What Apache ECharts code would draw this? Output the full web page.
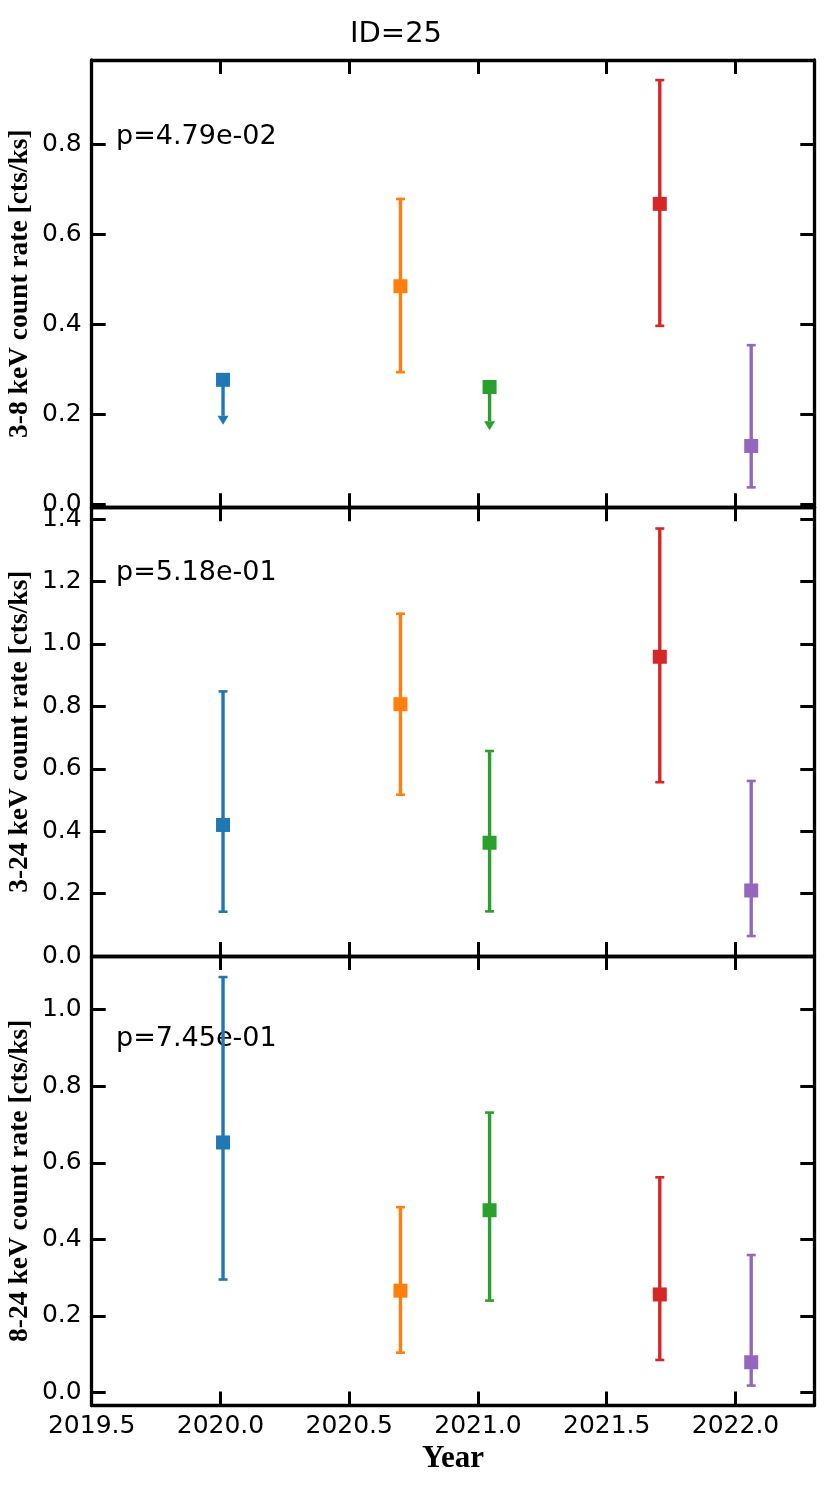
<!DOCTYPE html>
<html>
<head>
<meta charset="utf-8">
<script src="https://cdn.jsdelivr.net/npm/echarts@6.0.0/dist/echarts.min.js"></script>
<style>
  html, body { margin: 0; padding: 0; background: #fff; }
  #box { width: 830px; height: 1495px; }
</style>
</head>
<body>
<div id="box"></div>
<script>
// observation dates and marker colours
const years = [2020.010, 2020.699, 2021.045, 2021.706, 2022.061];
const pointColors = ['#1f77b4', '#ff7f0e', '#2ca02c', '#d62728', '#9467bd'];
const xTicks = [2019.5, 2020.0, 2020.5, 2021.0, 2021.5, 2022.0];

// 3-8 keV
const rateSoft = [0.276, 0.484, 0.260, 0.667, 0.129];
const lowSoft = [0.176, 0.293, 0.164, 0.396, 0.037];
const highSoft = [0.276, 0.678, 0.260, 0.942, 0.353];
const upperLimitSoft = [true, false, true, false, false];

// 3-24 keV
const rateFull = [0.420, 0.807, 0.363, 0.959, 0.210];
const lowFull = [0.142, 0.517, 0.143, 0.557, 0.064];
const highFull = [0.848, 1.097, 0.657, 1.370, 0.561];
const upperLimitFull = [false, false, false, false, false];

// 8-24 keV
const rateHard = [0.653, 0.266, 0.476, 0.256, 0.079];
const lowHard = [0.295, 0.104, 0.240, 0.085, 0.018];
const highHard = [1.085, 0.484, 0.731, 0.562, 0.359];
const upperLimitHard = [false, false, false, false, false];

const yTicksSoft = [0.0, 0.2, 0.4, 0.6, 0.8];
const yTicksFull = [0.0, 0.2, 0.4, 0.6, 0.8, 1.0, 1.2, 1.4];
const yTicksHard = [0.0, 0.2, 0.4, 0.6, 0.8, 1.0];

const yNames = ['3-8 keV count rate [cts/ks]', '3-24 keV count rate [cts/ks]', '8-24 keV count rate [cts/ks]'];
const pTexts = ['p=4.79e-02', 'p=5.18e-01', 'p=7.45e-01'];

const panels = [
    { rate: rateSoft, low: lowSoft, high: highSoft, lim: upperLimitSoft, ticks: yTicksSoft,
      min: -0.0073, max: 0.9867, top: 60, height: 447.3, pY: 137 },
    { rate: rateFull, low: lowFull, high: highFull, lim: upperLimitFull, ticks: yTicksFull,
      min: 0, max: 1.438, top: 507.3, height: 448.7, pY: 573 },
    { rate: rateHard, low: lowHard, high: highHard, lim: upperLimitHard, ticks: yTicksHard,
      min: -0.034, max: 1.140, top: 956, height: 449.5, pY: 1039 }
];

const chart = echarts.init(document.getElementById('box'));
const black = '#000';
const tickFont = { fontFamily: 'DejaVu Sans', fontSize: 25, color: black };

function fmt(v) { return v.toFixed(1); }

function errorBars(panel) {
    return function (params, api) {
        const i = params.dataIndex;
        const color = pointColors[i];
        const x = api.value(0);
        const pLo = api.coord([x, api.value(1)]);
        const pHi = api.coord([x, api.value(2)]);
        const children = [];
        if (panel.lim[i]) {
            // upper limit: stem down to an arrow head
            const base = pLo[1] - 9;
            children.push({ type: 'line', shape: { x1: pHi[0], y1: pHi[1], x2: pHi[0], y2: base },
                style: { stroke: color, lineWidth: 3.4 } });
            children.push({ type: 'polygon',
                shape: { points: [[pLo[0] - 5.5, base], [pLo[0] + 5.5, base], [pLo[0], pLo[1]]] },
                style: { fill: color } });
        } else {
            children.push({ type: 'line', shape: { x1: pHi[0], y1: pHi[1], x2: pLo[0], y2: pLo[1] },
                style: { stroke: color, lineWidth: 3.4 } });
            [pHi, pLo].forEach(function (p) {
                children.push({ type: 'line', shape: { x1: p[0] - 4.5, y1: p[1], x2: p[0] + 4.5, y2: p[1] },
                    style: { stroke: color, lineWidth: 2.6 } });
            });
        }
        return { type: 'group', children: children };
    };
}

const grids = [], xAxes = [], yAxes = [], series = [], texts = [];

panels.forEach(function (p, k) {
    grids.push({ left: 91.7, right: 15.7, top: p.top, height: p.height, outerBoundsMode: 'none' });

    ['bottom', 'top'].forEach(function (pos) {
        xAxes.push({
            type: 'value', gridIndex: k, position: pos, min: 2019.5, max: 2022.306,
            axisLine: { show: true, onZero: false, lineStyle: { color: black, width: 3.3 } },
            axisTick: { show: true, inside: true, length: 14, customValues: xTicks,
                lineStyle: { color: black, width: 3 } },
            axisLabel: Object.assign({ show: pos === 'bottom' && k === 2, customValues: xTicks,
                formatter: fmt, margin: 8 }, tickFont),
            splitLine: { show: false },
            name: pos === 'bottom' && k === 2 ? 'Year' : '',
            nameLocation: 'middle', nameGap: 38, nameMoveOverlap: false,
            nameTextStyle: { fontFamily: 'Liberation Serif', fontWeight: 'bold', fontSize: 31, color: black }
        });
    });

    ['left', 'right'].forEach(function (pos) {
        yAxes.push({
            type: 'value', gridIndex: k, position: pos, min: p.min, max: p.max,
            axisLine: { show: true, onZero: false, lineStyle: { color: black, width: 3.3 } },
            axisTick: { show: true, inside: true, length: 14, customValues: p.ticks,
                lineStyle: { color: black, width: 3 } },
            axisLabel: Object.assign({ show: pos === 'left', customValues: p.ticks,
                formatter: fmt, margin: 10 }, tickFont),
            splitLine: { show: false },
            name: pos === 'left' ? yNames[k] : '',
            nameLocation: 'middle', nameRotate: 90, nameGap: 58, nameMoveOverlap: false,
            nameTextStyle: { fontFamily: 'Liberation Serif', fontWeight: 'bold', fontSize: 27.5, color: black }
        });
    });

    series.push({
        type: 'custom', xAxisIndex: k * 2, yAxisIndex: k * 2, z: 2,
        renderItem: errorBars(p),
        encode: { x: 0, y: [1, 2] },
        data: years.map(function (y, i) { return [y, p.low[i], p.high[i]]; })
    });
    series.push({
        type: 'scatter', xAxisIndex: k * 2, yAxisIndex: k * 2, z: 3,
        symbol: 'rect', symbolSize: 14,
        data: years.map(function (y, i) {
            return { value: [y, p.rate[i]], itemStyle: { color: pointColors[i], opacity: 1 } };
        })
    });

    texts.push({
        type: 'text', left: 116, top: p.pY - 14,
        style: { text: pTexts[k], fontFamily: 'DejaVu Sans', fontSize: 27, fill: black }
    });
});

texts.push({
    type: 'text', x: 396, y: 34,
    style: { text: 'ID=25', fontFamily: 'DejaVu Sans', fontSize: 29, fill: black,
        align: 'center', verticalAlign: 'middle' }
});

const option = {
    animation: false,
    backgroundColor: '#fff',
    grid: grids,
    xAxis: xAxes,
    yAxis: yAxes,
    series: series,
    graphic: texts
};

chart.setOption(option);
</script>
</body>
</html>
